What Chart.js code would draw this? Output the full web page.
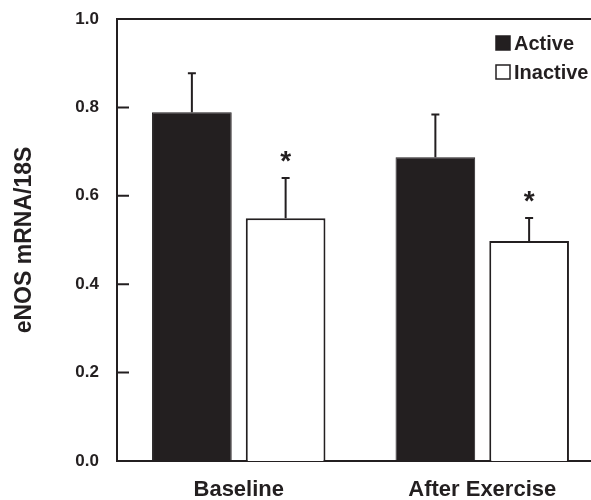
<!DOCTYPE html>
<html>
<head>
    <meta charset="UTF-8">
    <title>eNOS mRNA - Active vs Inactive</title>
    <script src="https://cdn.jsdelivr.net/npm/chart.js@4"></script>
    <style>
        html, body { margin: 0; padding: 0; background: #fff; overflow: hidden; }
        #enos-chart { display: block; }
    </style>
</head>
<body>

<canvas id="enos-chart" width="620" height="500"></canvas>

<script>
    // values
    const groups = ['Baseline', 'After Exercise'];
    const activeMean = [0.789, 0.687];
    const activeSD = [0.088, 0.097];
    const inactiveMean = [0.549, 0.498];
    const inactiveSD = [0.091, 0.052];
    const inactiveSig = [true, true];   // asterisk over the inactive bar
    const yTicks = [0, 0.2, 0.4, 0.6, 0.8, 1.0];

    const ink = '#231f20';
    const font = "'Liberation Sans', Arial, sans-serif";

    // error bars (upper only), asterisks, inner tick marks, top frame line, legend
    const extras = {
        id: 'extras',
        afterDatasetsDraw(chart) {
            const ctx = chart.ctx;
            const area = chart.chartArea;
            const y = chart.scales.y;
            const sds = [activeSD, inactiveSD];

            ctx.save();
            ctx.strokeStyle = ink;
            ctx.fillStyle = ink;

            chart.data.datasets.forEach((ds, di) => {
                chart.getDatasetMeta(di).data.forEach((bar, i) => {
                    const top = y.getPixelForValue(ds.data[i] + sds[di][i]);
                    ctx.lineWidth = 2;
                    ctx.beginPath();
                    ctx.moveTo(bar.x, bar.y);
                    ctx.lineTo(bar.x, top);
                    ctx.moveTo(bar.x - 4, top);
                    ctx.lineTo(bar.x + 4, top);
                    ctx.stroke();

                    if (di === 1 && inactiveSig[i]) {
                        ctx.font = 'bold 28px ' + font;
                        ctx.textAlign = 'center';
                        ctx.textBaseline = 'middle';
                        ctx.fillText('*', bar.x, top - 16);
                    }
                });
            });

            // tick marks pointing into the plot
            ctx.lineWidth = 2;
            ctx.beginPath();
            yTicks.forEach(v => {
                const py = y.getPixelForValue(v);
                ctx.moveTo(area.left, py);
                ctx.lineTo(area.left + 12, py);
            });
            // top frame line
            ctx.moveTo(area.left - 1, area.top);
            ctx.lineTo(area.right, area.top);
            ctx.stroke();

            // legend
            const lx = area.left + 379;
            let ly = area.top + 24;
            ctx.font = 'bold 20px ' + font;
            ctx.textAlign = 'left';
            ctx.textBaseline = 'middle';
            chart.data.datasets.forEach(ds => {
                ctx.fillStyle = ds.backgroundColor;
                ctx.fillRect(lx, ly - 7, 14, 14);
                ctx.lineWidth = 1.5;
                ctx.strokeRect(lx, ly - 7, 14, 14);
                ctx.fillStyle = ink;
                ctx.fillText(ds.label, lx + 18, ly + 1);
                ly += 29;
            });
            ctx.restore();
        }
    };

    const ctx = document.getElementById('enos-chart').getContext('2d');
    const chart = new Chart(ctx, {
        type: 'bar',
        data: {
            labels: groups,
            datasets: [
                {
                    label: 'Active',
                    data: activeMean,
                    backgroundColor: ink,
                    borderColor: ink,
                    borderWidth: 1
                },
                {
                    label: 'Inactive',
                    data: inactiveMean,
                    backgroundColor: '#ffffff',
                    borderColor: ink,
                    borderWidth: 2
                }
            ]
        },
        options: {
            responsive: false,
            animation: false,
            layout: { padding: { left: 0, right: 16, top: 19, bottom: 0 } },
            datasets: {
                bar: { categoryPercentage: 0.77, barPercentage: 0.85 }
            },
            plugins: {
                legend: { display: false },
                tooltip: { enabled: false }
            },
            scales: {
                x: {
                    grid: { display: false, drawTicks: false },
                    border: { color: ink, width: 2 },
                    ticks: {
                        color: ink,
                        padding: 16,
                        font: { family: font, size: 22, weight: 'bold' }
                    },
                    afterFit: s => { s.height = 39; }
                },
                y: {
                    min: 0,
                    max: 1,
                    afterBuildTicks: s => { s.ticks = yTicks.map(v => ({ value: v })); },
                    grid: { display: false, drawTicks: false },
                    border: { color: ink, width: 2 },
                    ticks: {
                        color: ink,
                        padding: 18,
                        font: { family: font, size: 17, weight: 'bold' },
                        callback: v => v.toFixed(1)
                    },
                    title: {
                        display: true,
                        text: 'eNOS mRNA/18S',
                        color: ink,
                        padding: { top: 11, bottom: 0 },
                        font: { family: font, size: 23, weight: 'bold' }
                    },
                    afterFit: s => {
                        s.width = 117;
                        s.paddingTop = 0;
                        s.paddingBottom = 0;
                    }
                }
            }
        },
        plugins: [extras]
    });
</script>

</body>
</html>
